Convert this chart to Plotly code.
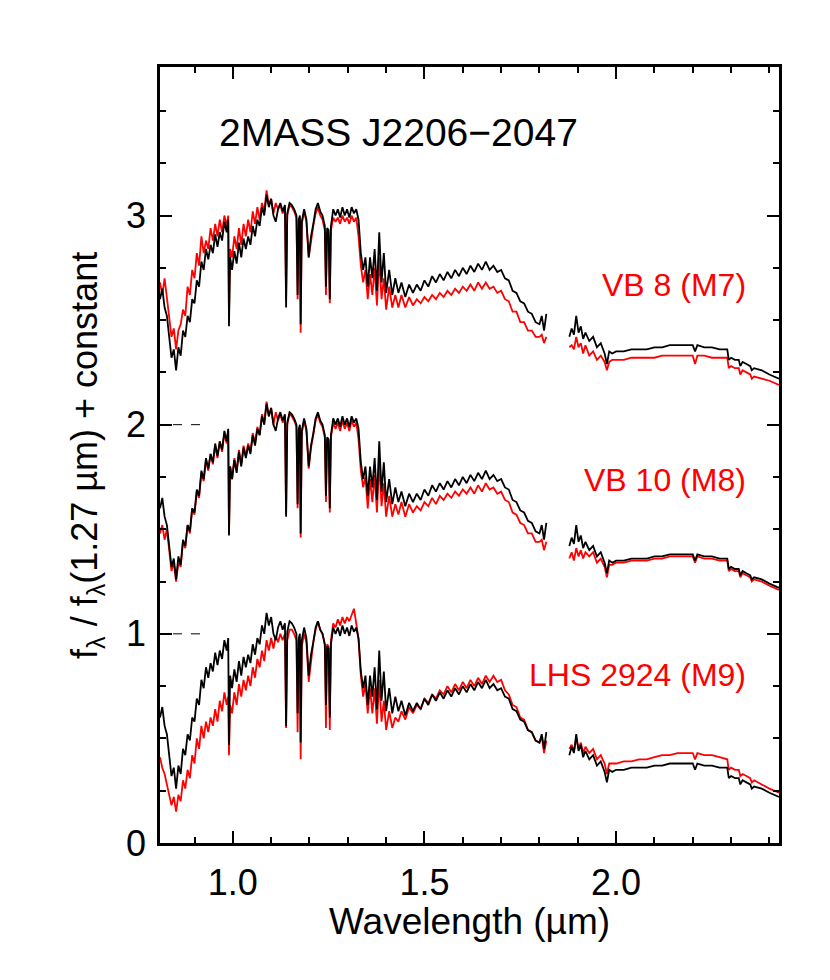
"""Near-infrared spectrum of 2MASS J2206-2047 compared with M7-M9 standards
"""

import plotly.graph_objects as go

# wavelength grid (micron), shared by all spectra; None marks the telluric gap
WAVE = [
    0.810, 0.816, 0.822, 0.828, 0.834, 0.840, 0.846, 0.852, 0.858, 0.864,
    0.870, 0.876, 0.882, 0.888, 0.894, 0.900, 0.906, 0.912, 0.918, 0.924,
    0.930, 0.936, 0.942, 0.948, 0.954, 0.960, 0.966, 0.972, 0.978, 0.984,
    0.988, 0.990, 0.993, 0.998, 1.004, 1.010, 1.016, 1.022, 1.028, 1.034,
    1.040, 1.046, 1.052, 1.058, 1.064, 1.070, 1.076, 1.082, 1.088, 1.094,
    1.100, 1.106, 1.112, 1.118, 1.124, 1.130, 1.136, 1.139, 1.142, 1.148,
    1.154, 1.160, 1.166, 1.169, 1.172, 1.175, 1.177, 1.180, 1.186, 1.192,
    1.198, 1.204, 1.210, 1.216, 1.222, 1.228, 1.234, 1.240, 1.243, 1.246,
    1.250, 1.253, 1.256, 1.262, 1.268, 1.274, 1.280, 1.286, 1.292, 1.298,
    1.304, 1.310, 1.316, 1.322, 1.328, 1.334, 1.340, 1.346, 1.352, 1.358,
    1.364, 1.370, 1.376, 1.382, 1.388, 1.394, 1.400, 1.408, 1.416, 1.424,
    1.432, 1.440, 1.450, 1.460, 1.470, 1.480, 1.490, 1.500, 1.510, 1.520,
    1.530, 1.540, 1.550, 1.560, 1.570, 1.580, 1.590, 1.600, 1.610, 1.620,
    1.630, 1.640, 1.650, 1.660, 1.670, 1.680, 1.690, 1.700, 1.710, 1.720,
    1.730, 1.740, 1.750, 1.760, 1.770, 1.780, 1.790, 1.800, 1.806, 1.812,
    1.818, 1.850, 1.878, 1.884, 1.890, 1.896, 1.902, 1.908, 1.914, 1.920,
    1.930, 1.940, 1.950, 1.960, 1.970, 1.976, 1.982, 1.990, 2.000, 2.020,
    2.040, 2.060, 2.080, 2.100, 2.120, 2.140, 2.160, 2.180, 2.200, 2.206,
    2.212, 2.230, 2.250, 2.270, 2.290, 2.294, 2.300, 2.310, 2.320, 2.324,
    2.330, 2.340, 2.350, 2.354, 2.360, 2.380, 2.400, 2.425,
]

# 2MASS J2206-2047, normalised at 1.27 micron
FLUX_J2206 = [
    0.60, 0.65, 0.56, 0.52, 0.42, 0.32, 0.36, 0.26, 0.37, 0.33,
    0.45, 0.42, 0.52, 0.49, 0.60, 0.58, 0.69, 0.66, 0.78, 0.74,
    0.84, 0.79, 0.86, 0.82, 0.91, 0.85, 0.92, 0.88, 0.97, 0.92,
    0.98, 0.47, 0.80, 0.74, 0.83, 0.77, 0.87, 0.80, 0.89, 0.84,
    0.90, 0.86, 0.95, 0.90, 0.98, 0.95, 1.04, 1.00, 1.10, 1.04,
    1.08, 1.00, 0.97, 1.03, 1.06, 1.02, 1.05, 0.56, 1.01, 1.06,
    1.05, 1.03, 1.00, 0.62, 0.98, 1.00, 0.48, 0.97, 1.03, 0.98,
    0.80, 0.90, 0.96, 1.03, 1.06, 1.02, 1.00, 0.95, 0.66, 0.94,
    0.93, 0.60, 0.95, 1.03, 1.00, 1.03, 0.99, 1.04, 1.00, 1.03,
    0.99, 1.04, 1.01, 1.03, 0.98, 0.82, 0.74, 0.80, 0.66, 0.80,
    0.70, 0.84, 0.64, 0.92, 0.68, 0.82, 0.63, 0.74, 0.62, 0.70,
    0.63, 0.68, 0.61, 0.67, 0.63, 0.67, 0.64, 0.69, 0.66, 0.71,
    0.68, 0.72, 0.69, 0.73, 0.70, 0.74, 0.71, 0.75, 0.72, 0.76,
    0.73, 0.77, 0.74, 0.78, 0.74, 0.76, 0.73, 0.74, 0.70, 0.69,
    0.64, 0.63, 0.59, 0.58, 0.54, 0.53, 0.49, 0.48, 0.52, 0.45,
    0.53, None, 0.42, 0.46, 0.43, 0.52, 0.44, 0.47, 0.41, 0.44,
    0.40, 0.42, 0.37, 0.39, 0.34, 0.29, 0.35, 0.34, 0.35, 0.35,
    0.36, 0.36, 0.36, 0.37, 0.37, 0.38, 0.38, 0.38, 0.38, 0.35,
    0.38, 0.37, 0.37, 0.36, 0.36, 0.31, 0.32, 0.31, 0.31, 0.28,
    0.30, 0.29, 0.28, 0.26, 0.27, 0.26, 0.24, 0.22,
]

# VB 8 (M7)
FLUX_VB8 = [
    0.68, 0.62, 0.70, 0.60, 0.50, 0.42, 0.46, 0.36, 0.45, 0.48,
    0.55, 0.52, 0.66, 0.62, 0.74, 0.70, 0.82, 0.76, 0.90, 0.82,
    0.88, 0.84, 0.94, 0.88, 0.96, 0.90, 0.98, 0.92, 1.00, 0.95,
    1.00, 0.52, 0.84, 0.80, 0.90, 0.84, 0.94, 0.86, 0.96, 0.90,
    0.98, 0.92, 1.02, 0.96, 1.04, 0.98, 1.06, 1.02, 1.12, 1.05,
    1.08, 1.01, 1.06, 1.03, 1.05, 1.01, 1.04, 0.60, 1.00, 1.05,
    1.04, 1.02, 0.99, 0.60, 0.97, 0.99, 0.44, 0.96, 1.02, 0.97,
    0.80, 0.88, 0.95, 1.01, 1.04, 1.00, 0.98, 0.93, 0.62, 0.92,
    0.91, 0.58, 0.93, 0.99, 0.97, 0.99, 0.96, 1.00, 0.97, 0.99,
    0.96, 1.00, 0.97, 0.99, 0.90, 0.76, 0.68, 0.74, 0.60, 0.72,
    0.62, 0.75, 0.57, 0.80, 0.60, 0.70, 0.55, 0.66, 0.56, 0.62,
    0.56, 0.62, 0.56, 0.61, 0.57, 0.60, 0.58, 0.61, 0.59, 0.62,
    0.60, 0.63, 0.61, 0.64, 0.62, 0.65, 0.63, 0.66, 0.64, 0.67,
    0.64, 0.68, 0.65, 0.68, 0.65, 0.66, 0.63, 0.64, 0.60, 0.59,
    0.54, 0.54, 0.49, 0.49, 0.45, 0.45, 0.42, 0.42, 0.43, 0.39,
    0.42, None, 0.37, 0.38, 0.36, 0.42, 0.37, 0.39, 0.34, 0.38,
    0.33, 0.35, 0.31, 0.33, 0.30, 0.26, 0.30, 0.31, 0.31, 0.31,
    0.32, 0.32, 0.32, 0.32, 0.33, 0.33, 0.33, 0.33, 0.33, 0.29,
    0.33, 0.33, 0.32, 0.32, 0.32, 0.27, 0.28, 0.27, 0.27, 0.24,
    0.26, 0.25, 0.24, 0.22, 0.23, 0.22, 0.21, 0.19,
]

# VB 10 (M8)
FLUX_VB10 = [
    0.48, 0.52, 0.45, 0.50, 0.40, 0.30, 0.34, 0.25, 0.34, 0.32,
    0.44, 0.41, 0.52, 0.48, 0.60, 0.57, 0.68, 0.65, 0.77, 0.73,
    0.83, 0.78, 0.86, 0.81, 0.90, 0.84, 0.92, 0.87, 0.96, 0.91,
    0.97, 0.48, 0.80, 0.74, 0.84, 0.78, 0.88, 0.81, 0.90, 0.85,
    0.91, 0.87, 0.96, 0.91, 0.99, 0.95, 1.05, 1.01, 1.11, 1.04,
    1.08, 1.00, 1.06, 1.02, 1.05, 1.01, 1.04, 0.57, 1.00, 1.05,
    1.04, 1.02, 0.99, 0.60, 0.97, 0.99, 0.46, 0.96, 1.02, 0.97,
    0.79, 0.89, 0.95, 1.02, 1.05, 1.01, 0.99, 0.94, 0.63, 0.93,
    0.92, 0.58, 0.94, 1.01, 0.98, 1.01, 0.97, 1.02, 0.98, 1.01,
    0.97, 1.02, 0.99, 1.01, 0.93, 0.78, 0.70, 0.75, 0.60, 0.74,
    0.63, 0.76, 0.58, 0.82, 0.61, 0.72, 0.56, 0.66, 0.56, 0.62,
    0.57, 0.63, 0.56, 0.62, 0.58, 0.61, 0.59, 0.63, 0.61, 0.65,
    0.62, 0.66, 0.64, 0.67, 0.65, 0.68, 0.66, 0.69, 0.67, 0.70,
    0.67, 0.71, 0.68, 0.72, 0.69, 0.70, 0.67, 0.68, 0.64, 0.63,
    0.58, 0.57, 0.53, 0.52, 0.48, 0.48, 0.44, 0.44, 0.45, 0.40,
    0.44, None, 0.36, 0.39, 0.35, 0.41, 0.37, 0.40, 0.36, 0.39,
    0.37, 0.39, 0.34, 0.36, 0.32, 0.27, 0.33, 0.33, 0.34, 0.34,
    0.35, 0.35, 0.35, 0.36, 0.36, 0.37, 0.37, 0.37, 0.37, 0.34,
    0.37, 0.36, 0.36, 0.35, 0.35, 0.30, 0.31, 0.30, 0.30, 0.27,
    0.29, 0.28, 0.27, 0.25, 0.26, 0.25, 0.23, 0.21,
]

# LHS 2924 (M9)
FLUX_LHS2924 = [
    0.41, 0.36, 0.33, 0.28, 0.24, 0.18, 0.22, 0.15, 0.23, 0.20,
    0.30, 0.26, 0.35, 0.31, 0.42, 0.38, 0.50, 0.45, 0.56, 0.50,
    0.58, 0.53, 0.60, 0.56, 0.64, 0.58, 0.68, 0.63, 0.72, 0.66,
    0.70, 0.42, 0.66, 0.62, 0.72, 0.66, 0.76, 0.70, 0.78, 0.73,
    0.80, 0.75, 0.84, 0.79, 0.88, 0.84, 0.92, 0.87, 0.97, 0.92,
    0.98, 0.93, 0.99, 0.96, 1.00, 0.97, 1.00, 0.55, 0.97, 1.02,
    1.02, 1.00, 0.97, 0.53, 0.95, 0.97, 0.40, 0.94, 1.00, 0.96,
    0.77, 0.88, 0.96, 1.02, 1.06, 1.02, 1.00, 0.95, 0.55, 0.95,
    0.94, 0.54, 0.97, 1.05, 1.03, 1.07, 1.04, 1.08, 1.05, 1.08,
    1.06, 1.09, 1.12, 1.05, 0.97, 0.80, 0.70, 0.76, 0.62, 0.74,
    0.62, 0.74, 0.57, 0.78, 0.58, 0.68, 0.54, 0.63, 0.55, 0.60,
    0.58, 0.63, 0.59, 0.65, 0.62, 0.66, 0.64, 0.69, 0.67, 0.71,
    0.69, 0.73, 0.71, 0.75, 0.72, 0.76, 0.73, 0.77, 0.74, 0.78,
    0.75, 0.79, 0.76, 0.80, 0.77, 0.80, 0.77, 0.78, 0.73, 0.71,
    0.66, 0.65, 0.60, 0.59, 0.54, 0.53, 0.49, 0.48, 0.51, 0.43,
    0.49, None, 0.45, 0.47, 0.44, 0.50, 0.45, 0.48, 0.43, 0.46,
    0.43, 0.45, 0.40, 0.42, 0.38, 0.33, 0.38, 0.38, 0.38, 0.39,
    0.39, 0.40, 0.40, 0.41, 0.42, 0.42, 0.43, 0.43, 0.43, 0.40,
    0.43, 0.42, 0.42, 0.41, 0.40, 0.35, 0.36, 0.35, 0.35, 0.32,
    0.33, 0.32, 0.31, 0.29, 0.30, 0.28, 0.26, 0.24,
]

STANDARDS = [FLUX_VB8, FLUX_VB10, FLUX_LHS2924]
LABELS = ['VB 8 (M7)', 'VB 10 (M8)', 'LHS 2924 (M9)']
OFFSETS = [2, 1, 0]
LABEL_Y = [0.719, 0.468, 0.2165]   # paper coordinates of the red labels

FONT = 'Liberation Sans, Arial, Helvetica, sans-serif'


def shift(values, offset):
    """Add the vertical constant, keeping the gap."""
    return [None if v is None else v + offset for v in values]


fig = go.Figure()

for flux, name, off in zip(STANDARDS, LABELS, OFFSETS):
    assert len(flux) == len(WAVE)
    # comparison standard in red, target in black on top
    fig.add_trace(go.Scatter(x=WAVE, y=shift(flux, off), mode='lines',
                             line=dict(color='#ff0000', width=1.8),
                             name=name, connectgaps=False))
    fig.add_trace(go.Scatter(x=WAVE, y=shift(FLUX_J2206, off), mode='lines',
                             line=dict(color='black', width=1.8),
                             name='2MASS J2206-2047', connectgaps=False))

# red labels for each standard
for name, ly in zip(LABELS, LABEL_Y):
    fig.add_annotation(text=name, xref='paper', yref='paper', x=0.950, y=ly,
                       xanchor='right', yanchor='middle', showarrow=False,
                       font=dict(family=FONT, size=32, color='#ff0000'))

# short dashed marks at the offset levels
for off in OFFSETS[:2]:
    fig.add_shape(type='line', xref='paper', yref='y', x0=0.021, x1=0.073,
                  y0=off, y1=off, line=dict(color='black', width=1, dash='dash'))

fig.add_annotation(text='2MASS J2206\u22122047', xref='paper', yref='paper',
                   x=0.092, y=0.915, xanchor='left', yanchor='middle',
                   showarrow=False, font=dict(family=FONT, size=39, color='black'))

# axis titles placed as annotations so they sit where the reference has them
fig.add_annotation(text='Wavelength (\u00b5m)', xref='paper', yref='paper',
                   x=0.5, y=-0.101, xanchor='center', yanchor='middle',
                   showarrow=False, font=dict(family=FONT, size=37, color='black'))
fig.add_annotation(text='f<sub>\u03bb</sub> / f<sub>\u03bb</sub>(1.27 \u00b5m) + constant',
                   xref='paper', yref='paper', x=-0.118, y=0.5, textangle=-90,
                   xanchor='center', yanchor='middle', showarrow=False,
                   font=dict(family=FONT, size=36, color='black'))

# the page body adds 8 px, so the figure is a little smaller than the window
fig.update_layout(
    width=822, height=972,
    margin=dict(l=152, r=51, t=59, b=137),
    paper_bgcolor='white', plot_bgcolor='white',
    showlegend=False,
    font=dict(family=FONT, size=36, color='black'),
)

fig.update_xaxes(
    range=[0.81, 2.425], automargin=False,
    tickvals=[1.0, 1.5, 2.0], ticktext=['1.0', '1.5', '2.0'],
    ticks='inside', ticklen=12, tickwidth=2, tickcolor='black',
    minor=dict(dtick=0.1, tick0=0, ticks='inside', ticklen=6, tickwidth=2,
               tickcolor='black', showgrid=False),
    showline=True, linewidth=2.5, linecolor='black', mirror='allticks',
    showgrid=False, zeroline=False, ticklabelstandoff=6,
)

fig.update_yaxes(
    range=[0, 3.71], automargin=False,
    tickvals=[0, 1, 2, 3], ticktext=['0', '1', '2', '3'],
    ticks='inside', ticklen=12, tickwidth=2, tickcolor='black',
    minor=dict(dtick=0.25, tick0=0, ticks='inside', ticklen=6, tickwidth=2,
               tickcolor='black', showgrid=False),
    showline=True, linewidth=2.5, linecolor='black', mirror='allticks',
    showgrid=False, zeroline=False, ticklabelstandoff=4,
)

fig.write_html('out.html')
